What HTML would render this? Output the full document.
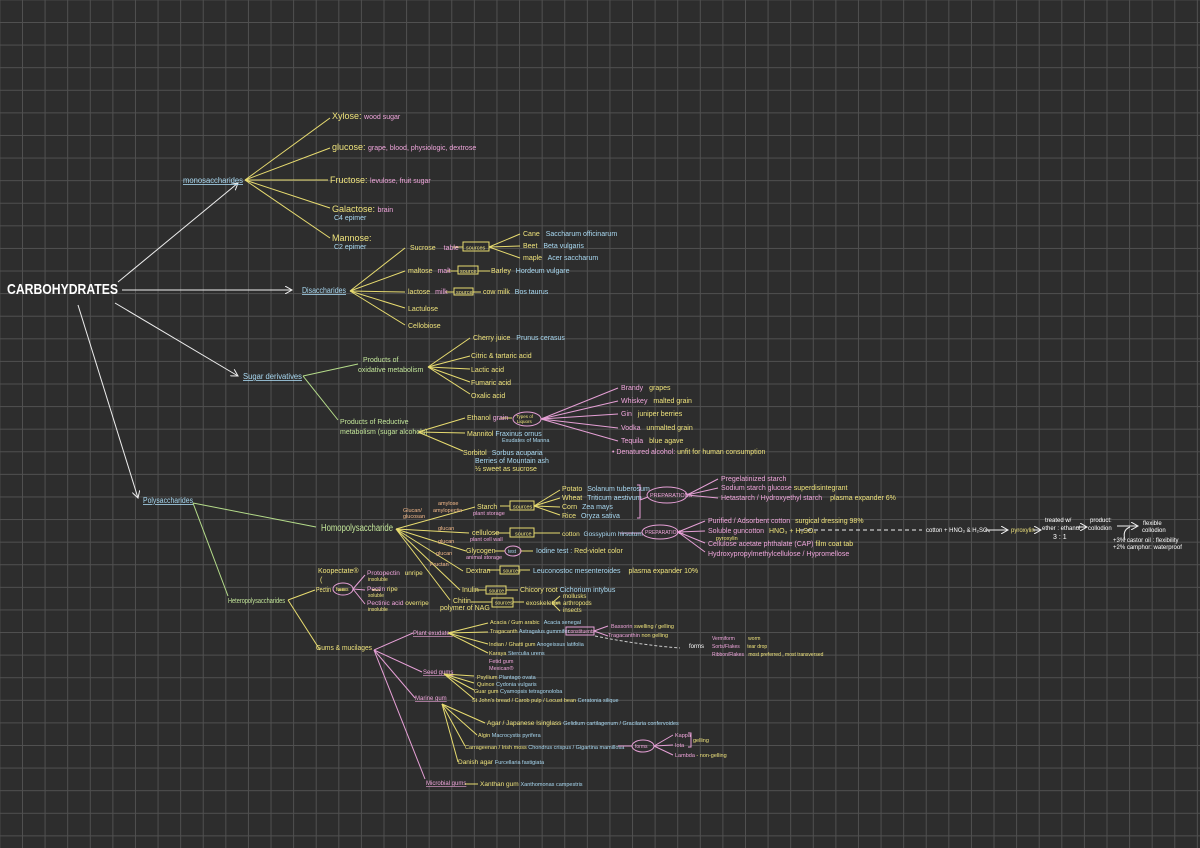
<!DOCTYPE html>
<html><head><meta charset="utf-8"><style>
html,body{margin:0;padding:0;}
body{width:1200px;height:848px;overflow:hidden;background-color:#2d2d2d;
background-image:linear-gradient(to right,#505050 1px,transparent 1px),linear-gradient(to bottom,#505050 1px,transparent 1px);
background-size:22.6px 22.6px;background-position:22px 22px;}
svg{position:absolute;left:0;top:0;font-family:"Liberation Sans",sans-serif;}
.y{fill:#efe37c}.b{fill:#a9d9f2}.p{fill:#f0a6dc}.g{fill:#c3e69a}.w{fill:#fff}.o{fill:#f3b98a}
text{font-size:7px}
.ly{stroke:#e8dc70;stroke-width:1;fill:none}.lp{stroke:#e6a0d6;stroke-width:1;fill:none}.lg{stroke:#b5dc8a;stroke-width:1;fill:none}.lw{stroke:#eee;stroke-width:1;fill:none}
</style></head><body>
<svg width="1200" height="848" viewBox="0 0 1200 848">
<defs><marker id="a" markerWidth="8" markerHeight="8" refX="7" refY="4" orient="auto"><path d="M0,0 L7,4 L0,8" stroke="#eee" fill="none"/></marker></defs>
<text x="7" y="294" class="w" style="font-size:15px;font-weight:bold" textLength="111" lengthAdjust="spacingAndGlyphs">CARBOHYDRATES</text>
<g class="lw">
<line x1="118" y1="282" x2="238" y2="183" marker-end="url(#a)"/>
<line x1="122" y1="290" x2="292" y2="290" marker-end="url(#a)"/>
<line x1="115" y1="303" x2="238" y2="376" marker-end="url(#a)"/>
<line x1="78" y1="305" x2="138" y2="498" marker-end="url(#a)"/>
</g>
<!-- monosaccharides -->
<text x="183" y="183" class="b" style="font-size:8px;text-decoration:underline" textLength="60" lengthAdjust="spacingAndGlyphs">monosaccharides</text>
<g class="ly"><line x1="245" y1="180" x2="330" y2="118"/><line x1="245" y1="180" x2="330" y2="148"/><line x1="245" y1="180" x2="328" y2="180"/><line x1="245" y1="180" x2="330" y2="208"/><line x1="245" y1="180" x2="330" y2="238"/></g>
<text x="332" y="119" class="y" style="font-size:9px">Xylose: <tspan class="p" style="font-size:7px">wood sugar</tspan></text>
<text x="332" y="150" class="y" style="font-size:9px">glucose: <tspan class="p" style="font-size:7px">grape, blood, physiologic, dextrose</tspan></text>
<text x="330" y="183" class="y" style="font-size:9px">Fructose: <tspan class="p" style="font-size:7px">levulose, fruit sugar</tspan></text>
<text x="332" y="212" class="y" style="font-size:9px">Galactose: <tspan class="p" style="font-size:7px">brain</tspan></text>
<text x="334" y="220" class="b">C4 epimer</text>
<text x="332" y="241" class="y" style="font-size:9px">Mannose:</text>
<text x="334" y="249" class="b">C2 epimer</text>
<!-- disaccharides -->
<text x="302" y="293" class="b" style="font-size:8px;text-decoration:underline" textLength="44" lengthAdjust="spacingAndGlyphs">Disaccharides</text>
<g class="ly"><line x1="350" y1="291" x2="405" y2="248"/><line x1="350" y1="291" x2="405" y2="271"/><line x1="350" y1="291" x2="405" y2="292"/><line x1="350" y1="291" x2="405" y2="308"/><line x1="350" y1="291" x2="405" y2="325"/>
<line x1="453" y1="247" x2="463" y2="247"/><rect x="463" y="242" width="26" height="9"/><line x1="489" y1="247" x2="520" y2="234"/><line x1="489" y1="247" x2="520" y2="246"/><line x1="489" y1="247" x2="520" y2="258"/>
<line x1="447" y1="271" x2="458" y2="271"/><rect x="458" y="266" width="20" height="8"/><line x1="478" y1="271" x2="490" y2="271"/>
<line x1="445" y1="292" x2="454" y2="292"/><rect x="454" y="288" width="19" height="7"/><line x1="473" y1="292" x2="481" y2="292"/></g>
<text x="410" y="250" class="y">Sucrose <tspan class="p" dx="6">table</tspan></text>
<text x="466" y="249.5" class="y" style="font-size:5.5px">sources</text>
<text x="523" y="236" class="y">Cane <tspan class="b" dx="4">Saccharum officinarum</tspan></text>
<text x="523" y="248" class="y">Beet <tspan class="b" dx="4">Beta vulgaris</tspan></text>
<text x="523" y="260" class="y">maple <tspan class="b" dx="4">Acer saccharum</tspan></text>
<text x="408" y="273" class="y">maltose <tspan class="p" dx="3">malt</tspan></text>
<text x="460" y="273" class="y" style="font-size:5.5px">source</text>
<text x="491" y="273" class="y">Barley <tspan class="b" dx="3">Hordeum vulgare</tspan></text>
<text x="408" y="294" class="y">lactose <tspan class="p" dx="3">milk</tspan></text>
<text x="456" y="294" class="y" style="font-size:5.5px">source</text>
<text x="483" y="294" class="y">cow milk <tspan class="b" dx="3">Bos taurus</tspan></text>
<text x="408" y="311" class="y">Lactulose</text>
<text x="408" y="328" class="y">Cellobiose</text>
<!-- sugar derivatives -->
<text x="243" y="379" class="b" style="font-size:8px;text-decoration:underline" textLength="59" lengthAdjust="spacingAndGlyphs">Sugar derivatives</text>
<g class="lg"><line x1="303" y1="376" x2="358" y2="364"/><line x1="303" y1="376" x2="338" y2="420"/></g>
<text x="363" y="362" class="g">Products of</text><text x="358" y="372" class="g">oxidative metabolism</text>
<text x="340" y="424" class="g">Products of Reductive</text><text x="340" y="434" class="g">metabolism (sugar alcohols)</text>
<g class="ly"><line x1="428" y1="367" x2="470" y2="338"/><line x1="428" y1="367" x2="470" y2="356"/><line x1="428" y1="367" x2="470" y2="369"/><line x1="428" y1="367" x2="470" y2="382"/><line x1="428" y1="367" x2="470" y2="394"/>
<line x1="418" y1="432" x2="465" y2="418"/><line x1="418" y1="432" x2="465" y2="433"/><line x1="418" y1="432" x2="463" y2="451"/><line x1="500" y1="418" x2="512" y2="418"/></g>
<text x="473" y="340" class="y">Cherry juice <tspan class="b" dx="4">Prunus cerasus</tspan></text>
<text x="471" y="358" class="y">Citric &amp; tartaric acid</text>
<text x="471" y="372" class="y">Lactic acid</text>
<text x="471" y="385" class="y">Fumaric acid</text>
<text x="471" y="398" class="y">Oxalic acid</text>
<text x="467" y="420" class="y">Ethanol <tspan class="p">grain</tspan></text>
<ellipse cx="527" cy="419" rx="14" ry="7" class="lp"/>
<text x="516" y="418" class="y" style="font-size:4.5px">Types of</text><text x="517" y="423" class="y" style="font-size:4.5px">Liquors</text>
<g class="lp"><line x1="541" y1="419" x2="618" y2="388"/><line x1="541" y1="419" x2="618" y2="401"/><line x1="541" y1="419" x2="618" y2="414"/><line x1="541" y1="419" x2="618" y2="428"/><line x1="541" y1="419" x2="618" y2="441"/></g>
<text x="621" y="390" class="p">Brandy <tspan class="y" dx="4">grapes</tspan></text>
<text x="621" y="403" class="p">Whiskey <tspan class="y" dx="4">malted grain</tspan></text>
<text x="621" y="416" class="p">Gin <tspan class="y" dx="4">juniper berries</tspan></text>
<text x="621" y="430" class="p">Vodka <tspan class="y" dx="4">unmalted grain</tspan></text>
<text x="621" y="443" class="p">Tequila <tspan class="y" dx="4">blue agave</tspan></text>
<text x="612" y="454" class="p">• Denatured alcohol: <tspan class="y">unfit for human consumption</tspan></text>
<text x="467" y="436" class="y">Mannitol <tspan class="b">Fraxinus ornus</tspan></text>
<text x="502" y="442" class="b" style="font-size:5.5px">Exudates of Manna</text>
<text x="463" y="455" class="y">Sorbitol <tspan class="b" dx="3">Sorbus acuparia</tspan></text>
<text x="475" y="463" class="b">Berries of Mountain ash</text>
<text x="475" y="471" class="y">½ sweet as sucrose</text>
<!-- polysaccharides -->
<text x="143" y="503" class="b" style="font-size:8px;text-decoration:underline" textLength="50" lengthAdjust="spacingAndGlyphs">Polysaccharides</text>
<g class="lg"><line x1="193" y1="503" x2="316" y2="527"/><line x1="193" y1="503" x2="228" y2="596"/></g>
<text x="321" y="531" class="g" style="font-size:10px" textLength="72" lengthAdjust="spacingAndGlyphs">Homopolysaccharide</text>
<g class="ly">
<line x1="396" y1="529" x2="475" y2="507"/><line x1="396" y1="529" x2="469" y2="533"/><line x1="396" y1="529" x2="466" y2="551"/><line x1="396" y1="529" x2="463" y2="571"/><line x1="396" y1="529" x2="460" y2="590"/><line x1="396" y1="529" x2="450" y2="600"/>
<line x1="500" y1="506" x2="510" y2="506"/><rect x="510" y="501" width="24" height="9"/><line x1="534" y1="506" x2="560" y2="490"/><line x1="534" y1="506" x2="560" y2="498"/><line x1="534" y1="506" x2="560" y2="507"/><line x1="534" y1="506" x2="560" y2="515"/>
<line x1="495" y1="533" x2="510" y2="533"/><rect x="510" y="528" width="24" height="9"/><line x1="534" y1="533" x2="560" y2="533"/>
<line x1="495" y1="551" x2="505" y2="551"/><line x1="520" y1="551" x2="533" y2="551"/>
<line x1="488" y1="570" x2="500" y2="570"/><rect x="500" y="566" width="19" height="8"/><line x1="519" y1="570" x2="530" y2="570"/>
<line x1="476" y1="590" x2="486" y2="590"/><rect x="486" y="586" width="20" height="8"/><line x1="506" y1="590" x2="518" y2="590"/>
<line x1="471" y1="602" x2="492" y2="602"/><rect x="492" y="598" width="21" height="9"/><line x1="513" y1="602" x2="524" y2="602"/><line x1="552" y1="603" x2="560" y2="596"/><line x1="552" y1="603" x2="560" y2="603"/><line x1="552" y1="603" x2="560" y2="611"/>
</g>
<text x="403" y="512" class="o" style="font-size:5.5px">Glucan/</text><text x="403" y="518" class="o" style="font-size:5.5px">glucosan</text>
<text x="438" y="505" class="o" style="font-size:5.5px">amylose</text><text x="433" y="512" class="o" style="font-size:5.5px">amylopectin</text>
<text x="438" y="530" class="o" style="font-size:5.5px">glucan</text><text x="438" y="543" class="o" style="font-size:5.5px">glucan</text>
<text x="436" y="555" class="o" style="font-size:5.5px">glucan</text><text x="430" y="566" class="o" style="font-size:5.5px">Fructan</text>
<text x="477" y="509" class="y">Starch</text><text x="473" y="515" class="p" style="font-size:5.5px">plant storage</text>
<text x="513" y="508.5" class="y" style="font-size:5.5px">sources</text>
<text x="562" y="491" class="y">Potato <tspan class="b" dx="3">Solanum tuberosum</tspan></text>
<text x="562" y="500" class="y">Wheat <tspan class="b" dx="3">Triticum aestivum</tspan></text>
<text x="562" y="509" class="y">Corn <tspan class="b" dx="3">Zea mays</tspan></text>
<text x="562" y="518" class="y">Rice <tspan class="b" dx="3">Oryza sativa</tspan></text>
<path d="M637,485 L640,485 L640,518 L637,518 M640,500 L648,497" class="lp"/>
<ellipse cx="667" cy="495" rx="20" ry="8" class="lp"/><text x="650" y="497" class="p" style="font-size:5.5px">PREPARATIONS</text>
<g class="lp"><line x1="687" y1="495" x2="718" y2="479"/><line x1="687" y1="495" x2="718" y2="488"/><line x1="687" y1="495" x2="718" y2="498"/>
<line x1="678" y1="532" x2="705" y2="521"/><line x1="678" y1="532" x2="705" y2="531"/><line x1="678" y1="532" x2="705" y2="543"/><line x1="678" y1="532" x2="705" y2="552"/><line x1="620" y1="533" x2="641" y2="533"/></g>
<text x="721" y="481" class="p">Pregelatinized starch</text>
<text x="721" y="490" class="p">Sodium starch glucose <tspan class="y">superdisintegrant</tspan></text>
<text x="721" y="500" class="p">Hetastarch / Hydroxyethyl starch <tspan class="y" dx="6">plasma expander 6%</tspan></text>
<text x="472" y="535" class="y">cellulose</text><text x="470" y="541" class="p" style="font-size:5.5px">plant cell wall</text>
<text x="515" y="535.5" class="y" style="font-size:5.5px">source</text>
<text x="562" y="536" class="y" style="font-size:6.5px">cotton <tspan class="b" dx="2">Gossypium hirsutum</tspan></text>
<ellipse cx="660" cy="532" rx="18" ry="7" class="lp"/><text x="645" y="534" class="p" style="font-size:5px">PREPARATIONS</text>
<text x="708" y="523" class="p">Purified / Adsorbent cotton <tspan class="y" dx="3">surgical dressing 98%</tspan></text>
<text x="708" y="533" class="p">Soluble guncotton <tspan class="y" dx="3">HNO₃ + H₂SO₄</tspan></text>
<text x="716" y="540" class="y" style="font-size:5.5px">pyroxylin</text>
<text x="708" y="546" class="p">Cellulose acetate phthalate (CAP) <tspan class="y">film coat tab</tspan></text>
<text x="708" y="556" class="p">Hydroxypropylmethylcellulose / Hypromellose</text>
<line x1="800" y1="530" x2="922" y2="530" stroke="#eee" stroke-dasharray="4,3"/>
<text x="926" y="532" class="w" style="font-size:6px">cotton + HNO₃ &amp; H₂SO₄</text>
<line x1="985" y1="530" x2="1008" y2="530" class="lw" marker-end="url(#a)"/>
<text x="1011" y="532" class="y" style="font-size:6px">pyroxylin</text>
<line x1="1033" y1="530" x2="1041" y2="530" class="lw" marker-end="url(#a)"/>
<text x="1045" y="522" class="w" style="font-size:6px">treated w/</text><text x="1042" y="530" class="w" style="font-size:6px">ether : ethanol</text><text x="1053" y="539" class="w">3 : 1</text>
<line x1="1076" y1="527" x2="1087" y2="527" class="lw" marker-end="url(#a)"/>
<text x="1090" y="522" class="w" style="font-size:6px">product:</text><text x="1088" y="530" class="w" style="font-size:6px">collodion</text>
<line x1="1117" y1="526" x2="1138" y2="526" class="lw" marker-end="url(#a)"/>
<path d="M1125,540 Q1122,530 1130,527" class="lw"/>
<text x="1143" y="525" class="w" style="font-size:6px">flexible</text><text x="1142" y="532" class="w" style="font-size:6px">collodion</text>
<text x="1113" y="542" class="w" style="font-size:6px">+3% castor oil : flexibility</text>
<text x="1113" y="549" class="w" style="font-size:6px">+2% camphor: waterproof</text>
<text x="466" y="553" class="y">Glycogen</text><text x="466" y="559" class="p" style="font-size:5.5px">animal storage</text>
<ellipse cx="513" cy="551" rx="8" ry="5" class="lp"/><text x="508" y="553" class="b" style="font-size:5px">test</text>
<text x="536" y="553" class="b">Iodine test : <tspan class="y">Red-violet color</tspan></text>
<text x="466" y="573" class="y">Dextran</text><text x="503" y="572.5" class="y" style="font-size:5px">sources</text>
<text x="533" y="573" class="b">Leuconostoc mesenteroides <tspan class="y" dx="6">plasma expander 10%</tspan></text>
<text x="462" y="592" class="y">Inulin</text><text x="489" y="592.5" class="y" style="font-size:5px">source</text>
<text x="520" y="592" class="y">Chicory root <tspan class="b">Cichorium intybus</tspan></text>
<text x="453" y="603" class="y">Chitin</text><text x="440" y="610" class="y">polymer of NAG</text>
<text x="495" y="604.5" class="y" style="font-size:5px">sources</text>
<text x="526" y="605" class="y" style="font-size:6.5px">exoskeleton</text>
<text x="563" y="598" class="y" style="font-size:6px">mollusks</text><text x="563" y="605" class="y" style="font-size:6px">arthropods</text><text x="563" y="612" class="y" style="font-size:6px">insects</text>
<!-- hetero -->
<text x="228" y="603" class="g" style="font-size:7px" textLength="57" lengthAdjust="spacingAndGlyphs">Heteropolysaccharides</text>
<g class="ly"><line x1="288" y1="600" x2="315" y2="590"/><line x1="288" y1="600" x2="320" y2="650"/><line x1="338" y1="590" x2="345" y2="590"/><line x1="372" y1="590" x2="380" y2="590"/></g>
<text x="318" y="573" class="y">Koopectate®</text><text x="320" y="582" class="y">(</text>
<text x="316" y="592" class="y" textLength="15" lengthAdjust="spacingAndGlyphs">Pectin</text>
<ellipse cx="343" cy="589" rx="10" ry="6" class="lp"/><text x="336" y="591" class="y" style="font-size:5px">forms</text>
<g class="lp"><line x1="353" y1="589" x2="365" y2="575"/><line x1="353" y1="589" x2="365" y2="590"/><line x1="353" y1="589" x2="365" y2="604"/></g>
<text x="367" y="575" class="p" style="font-size:6.5px">Protopectin <tspan class="y" dx="3">unripe</tspan></text><text x="368" y="581" class="y" style="font-size:5px">insoluble</text>
<text x="367" y="591" class="p" style="font-size:6.5px">Pectin <tspan class="y">ripe</tspan></text><text x="368" y="597" class="y" style="font-size:5px">soluble</text>
<text x="367" y="605" class="p" style="font-size:6.5px">Pectinic acid <tspan class="y">overripe</tspan></text><text x="368" y="611" class="y" style="font-size:5px">insoluble</text>
<text x="316" y="650" class="y" textLength="56" lengthAdjust="spacingAndGlyphs">Gums &amp; mucilages</text>
<g class="lp"><line x1="374" y1="650" x2="413" y2="633"/><line x1="374" y1="650" x2="422" y2="672"/><line x1="374" y1="650" x2="415" y2="698"/><line x1="374" y1="650" x2="425" y2="779"/></g>
<text x="413" y="635" class="p" style="font-size:6px;text-decoration:underline">Plant exudates</text>
<text x="423" y="674" class="p" style="font-size:6px;text-decoration:underline">Seed gums</text>
<text x="415" y="700" class="p" style="font-size:6px;text-decoration:underline">Marine gum</text>
<text x="426" y="785" class="p" style="font-size:6px;text-decoration:underline">Microbial gums</text>
<g class="ly"><line x1="448" y1="633" x2="488" y2="623"/><line x1="448" y1="633" x2="488" y2="632"/><line x1="448" y1="633" x2="488" y2="644"/><line x1="448" y1="633" x2="488" y2="653"/>
<line x1="444" y1="674" x2="474" y2="676"/><line x1="444" y1="674" x2="474" y2="683"/><line x1="444" y1="674" x2="474" y2="690"/><line x1="444" y1="674" x2="474" y2="699"/>
<line x1="442" y1="704" x2="485" y2="723"/><line x1="442" y1="704" x2="477" y2="735"/><line x1="442" y1="704" x2="465" y2="746"/><line x1="442" y1="704" x2="458" y2="762"/>
<line x1="465" y1="784" x2="478" y2="784"/></g>
<text x="490" y="624" class="y" style="font-size:5.5px">Acacia / Gum arabic <tspan class="b" dx="3">Acacia senegal</tspan></text>
<text x="490" y="633" class="y" style="font-size:5.5px">Tragacanth <tspan class="b">Astragalus gummifer</tspan></text>
<rect x="566" y="627" width="28" height="8" style="stroke:#e6a0d6;fill:none"/><text x="568" y="633" class="p" style="font-size:5px">constituents</text>
<g class="lp"><line x1="594" y1="631" x2="608" y2="626"/><line x1="594" y1="631" x2="608" y2="636"/></g>
<text x="611" y="628" class="p" style="font-size:5.5px">Bassorin <tspan class="y">swelling / gelling</tspan></text>
<text x="608" y="637" class="p" style="font-size:5.5px">Tragacanthin <tspan class="y">non gelling</tspan></text>
<path d="M595,636 Q640,645 680,648" stroke="#ccc" stroke-dasharray="3,2" fill="none"/>
<text x="689" y="648" class="w" style="font-size:6px">forms</text>
<text x="712" y="640" class="p" style="font-size:5px">Vermiform <tspan class="y" dx="12">worm</tspan></text>
<text x="712" y="648" class="p" style="font-size:5px">Sorts/Flakes <tspan class="y" dx="6">tear drop</tspan></text>
<text x="712" y="656" class="p" style="font-size:5px">Ribbon/Flakes <tspan class="y" dx="3">most preferred , most transversed</tspan></text>
<text x="489" y="646" class="y" style="font-size:5.5px">Indian / Ghatti gum <tspan class="b">Anogeissus latifolia</tspan></text>
<text x="489" y="655" class="y" style="font-size:5.5px">Karaya <tspan class="b">Sterculia urens</tspan></text>
<text x="489" y="663" class="p" style="font-size:5.5px">Fetid gum</text><text x="489" y="670" class="p" style="font-size:5.5px">Mexican®</text>
<text x="477" y="679" class="y" style="font-size:5.5px">Psyllium <tspan class="b">Plantago ovata</tspan></text>
<text x="477" y="686" class="y" style="font-size:5.5px">Quince <tspan class="b">Cydonia vulgaris</tspan></text>
<text x="474" y="693" class="y" style="font-size:5.5px">Guar gum <tspan class="b">Cyamopsis tetragonoloba</tspan></text>
<text x="472" y="702" class="y" style="font-size:5.5px">St John's bread / Carob pulp / Locust bean <tspan class="b">Ceratonia silique</tspan></text>
<text x="487" y="725" class="y" style="font-size:6.5px">Agar / Japanese Isinglass <tspan class="b" style="font-size:5.5px">Gelidium cartilagenum / Gracilaria confervoides</tspan></text>
<text x="478" y="737" class="y" style="font-size:5.5px">Algin <tspan class="b">Macrocystis pyrifera</tspan></text>
<text x="465" y="749" class="y" style="font-size:5.5px">Carrageenan / Irish moss <tspan class="b">Chondrus crispus / Gigartina mamillosa</tspan></text>
<line x1="618" y1="746" x2="632" y2="746" class="lp"/>
<ellipse cx="643" cy="746" rx="11" ry="6" class="lp"/><text x="635" y="748" class="p" style="font-size:5px">forms</text>
<g class="lp"><line x1="654" y1="746" x2="673" y2="735"/><line x1="654" y1="746" x2="673" y2="745"/><line x1="654" y1="746" x2="673" y2="755"/><path d="M688,733 L691,733 L691,747 L688,747"/></g>
<text x="675" y="737" class="p" style="font-size:5.5px">Kappa</text><text x="693" y="742" class="y" style="font-size:5.5px">gelling</text>
<text x="675" y="747" class="p" style="font-size:5.5px">Iota</text>
<text x="675" y="757" class="p" style="font-size:5.5px">Lambda <tspan class="y">- non-gelling</tspan></text>
<text x="458" y="764" class="y" style="font-size:6.5px">Danish agar <tspan class="b" style="font-size:5.5px">Furcellaria fastigiata</tspan></text>
<text x="480" y="786" class="y" style="font-size:6.5px">Xanthan gum <tspan class="b" style="font-size:5.5px">Xanthomonas campestris</tspan></text>
</svg>
</body></html>
